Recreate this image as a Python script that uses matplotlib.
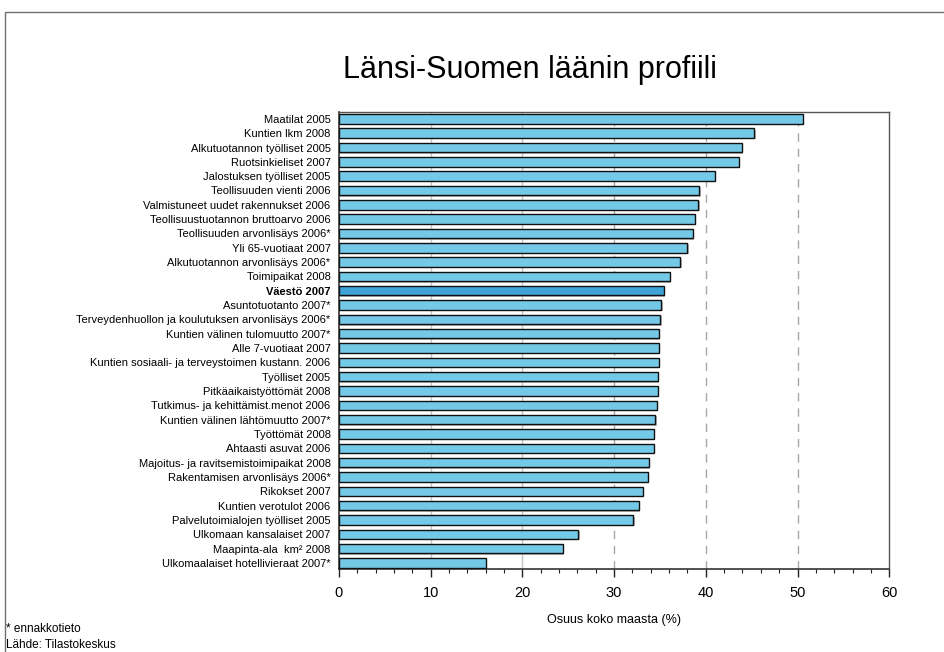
"""Länsi-Suomen läänin profiili -- horizontal bar chart of shares of the whole country."""

import matplotlib
matplotlib.use("Agg")
import matplotlib.pyplot as plt
import matplotlib.patheffects as pe
from matplotlib.patches import Rectangle
from matplotlib.ticker import MultipleLocator

plt.rcParams["font.family"] = ["Liberation Sans", "DejaVu Sans"]

LABELS = [
    "Maatilat 2005",
    "Kuntien lkm 2008",
    "Alkutuotannon työlliset 2005",
    "Ruotsinkieliset 2007",
    "Jalostuksen työlliset 2005",
    "Teollisuuden vienti 2006",
    "Valmistuneet uudet rakennukset 2006",
    "Teollisuustuotannon bruttoarvo 2006",
    "Teollisuuden arvonlisäys 2006*",
    "Yli 65-vuotiaat 2007",
    "Alkutuotannon arvonlisäys 2006*",
    "Toimipaikat 2008",
    "Väestö 2007",
    "Asuntotuotanto 2007*",
    "Terveydenhuollon ja koulutuksen arvonlisäys 2006*",
    "Kuntien välinen tulomuutto 2007*",
    "Alle 7-vuotiaat 2007",
    "Kuntien sosiaali- ja terveystoimen kustann. 2006",
    "Työlliset 2005",
    "Pitkäaikaistyöttömät 2008",
    "Tutkimus- ja kehittämist.menot 2006",
    "Kuntien välinen lähtömuutto 2007*",
    "Työttömät 2008",
    "Ahtaasti asuvat 2006",
    "Majoitus- ja ravitsemistoimipaikat 2008",
    "Rakentamisen arvonlisäys 2006*",
    "Rikokset 2007",
    "Kuntien verotulot 2006",
    "Palvelutoimialojen työlliset 2005",
    "Ulkomaan kansalaiset 2007",
    "Maapinta-ala  km² 2008",
    "Ulkomaalaiset hotellivieraat 2007*",
]
SHARES = [
    50.6, 45.3, 43.9, 43.6, 41.0, 39.3, 39.2, 38.8, 38.6, 38.0, 37.2, 36.1,
    35.4, 35.15, 35.05, 34.9, 34.85, 34.85, 34.8, 34.8, 34.65, 34.5, 34.3,
    34.3, 33.8, 33.7, 33.1, 32.7, 32.1, 26.1, 24.4, 16.0,
]
HIGHLIGHT = "Väestö 2007"

TITLE = "Länsi-Suomen läänin profiili"
XLABEL = "Osuus koko maasta (%)"
NOTES = ["* ennakkotieto", "Lähde: Tilastokeskus"]


def main() -> None:
    fig = plt.figure(figsize=(9.44, 6.52), dpi=100)
    ax = fig.add_axes([0.359, 0.127, 0.583, 0.701])

    # figure frame (left and top edges visible)
    fig.patches.append(Rectangle((5 / 944, -0.1), 1.2, 1.1 - 12 / 652,
                                 transform=fig.transFigure, fill=False,
                                 edgecolor="#707070", lw=1.0))

    ys = list(range(len(LABELS)))
    colors = ["#3fa3d8" if lab == HIGHLIGHT else "#74c9e7" for lab in LABELS]
    bars = ax.barh(ys, SHARES, height=0.66, color=colors, edgecolor="#111111",
                   linewidth=1.0, zorder=3)
    for b in bars:
        b.set_path_effects([pe.SimplePatchShadow(offset=(1.0, -1.0),
                                                 shadow_rgbFace="#888888", alpha=0.6),
                            pe.Normal()])

    for x in (10, 20):
        ax.axvline(x, color="#c4c4c4", lw=1.0, zorder=1)
    for x in (30, 40, 50):
        ax.axvline(x, color="#a8a8a8", lw=1.0, ls=(0, (6, 5)), zorder=1)

    ax.set_xlim(0, 60)
    ax.set_ylim(len(LABELS) - 0.56, -0.47)
    ax.set_yticks(ys)
    ax.set_yticklabels(LABELS, fontsize=8)
    for t in ax.get_yticklabels():
        if t.get_text() == HIGHLIGHT:
            t.set_fontweight("bold")
    ax.tick_params(axis="y", length=0, pad=6)

    ax.xaxis.set_major_locator(MultipleLocator(10))
    ax.xaxis.set_minor_locator(MultipleLocator(2))
    ax.tick_params(axis="x", which="major", length=6, width=1.0, labelsize=10.5,
                   pad=6, color="#222222")
    ax.tick_params(axis="x", which="minor", length=3, width=0.8, color="#222222")
    ax.set_xlabel(XLABEL, fontsize=9, labelpad=10)

    for side in ("left", "bottom"):
        ax.spines[side].set_color("#333333")
        ax.spines[side].set_linewidth(1.2)
    for side in ("top", "right"):
        ax.spines[side].set_color("#555555")
        ax.spines[side].set_linewidth(1.0)

    fig.text(0.561, 0.893, TITLE, ha="center", va="center", fontsize=22)
    fig.text(6 / 944, 1 - 629 / 652, NOTES[0], ha="left", va="center", fontsize=8.5)
    fig.text(6 / 944, 1 - 645 / 652, NOTES[1], ha="left", va="center", fontsize=8.5)

    fig.savefig("out.png", dpi=100)


if __name__ == "__main__":
    main()
